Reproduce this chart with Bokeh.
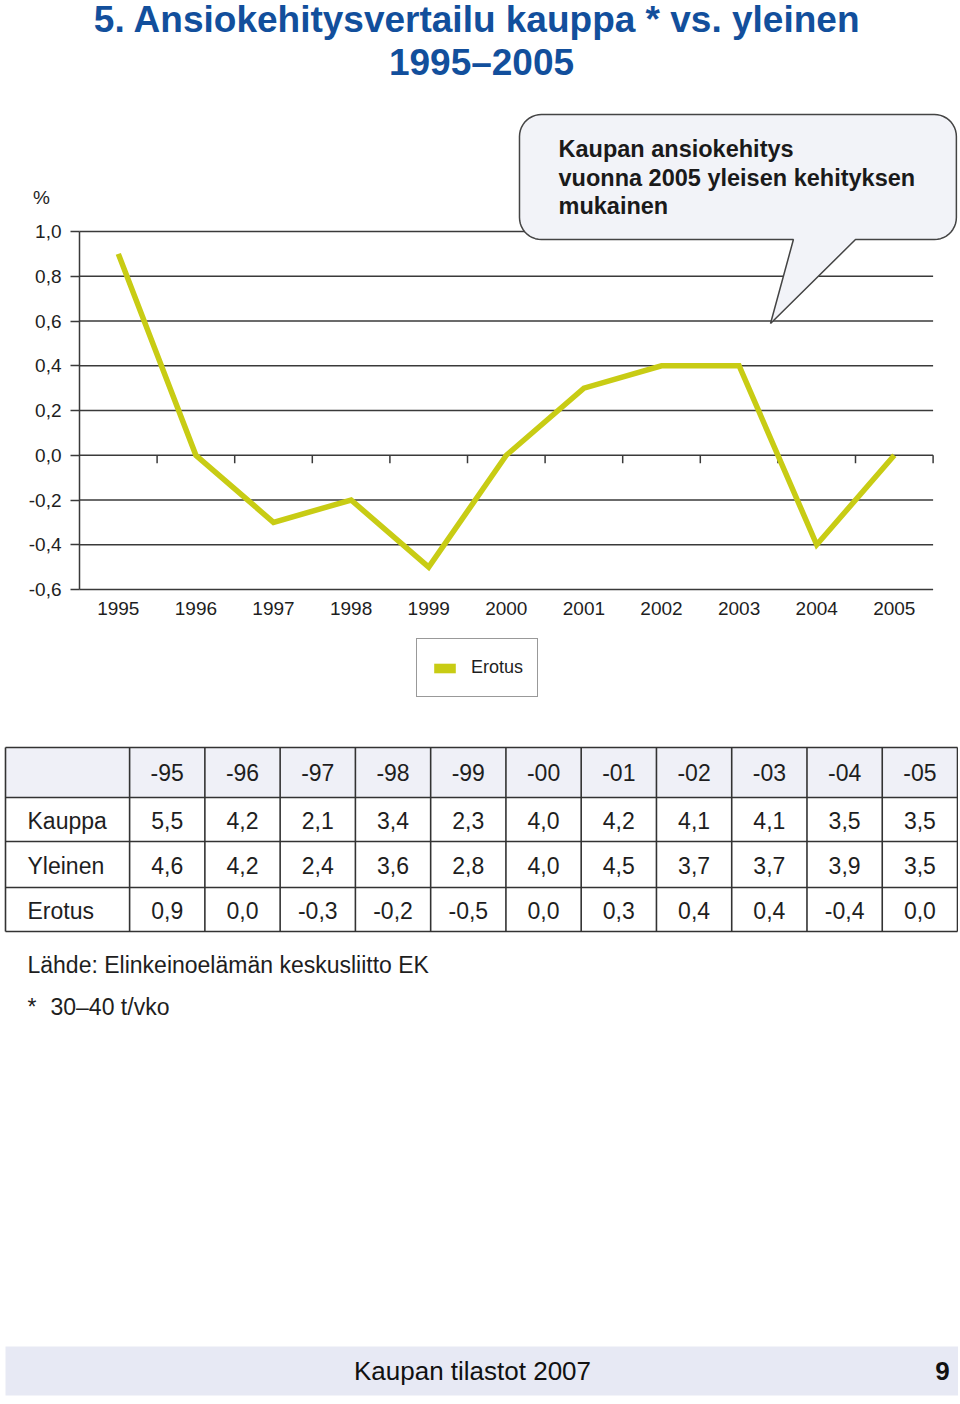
import numpy as np
from bokeh.plotting import figure
from bokeh.models import Range1d, FixedTicker, Legend, LegendItem
from bokeh.layouts import column
from bokeh.embed import file_html
from bokeh.resources import INLINE
from bokeh.core.properties import value

FONT = "Liberation Sans"

# ---------------- data ----------------
years = [1995, 1996, 1997, 1998, 1999, 2000, 2001, 2002, 2003, 2004, 2005]
erotus = [0.9, 0.0, -0.3, -0.2, -0.5, 0.0, 0.3, 0.4, 0.4, -0.4, 0.0]
y_ticks = [-0.6, -0.4, -0.2, 0.0, 0.2, 0.4, 0.6, 0.8, 1.0]
y_tick_labels = ["-0,6", "-0,4", "-0,2", "0,0", "0,2", "0,4", "0,6", "0,8", "1,0"]

table_cols = ["-95", "-96", "-97", "-98", "-99", "-00", "-01", "-02", "-03", "-04", "-05"]
kauppa = [5.5, 4.2, 2.1, 3.4, 2.3, 4.0, 4.2, 4.1, 4.1, 3.5, 3.5]
yleinen = [4.6, 4.2, 2.4, 3.6, 2.8, 4.0, 4.5, 3.7, 3.7, 3.9, 3.5]
row_names = ["Kauppa", "Yleinen", "Erotus"]

title_lines = ["5.  Ansiokehitysvertailu kauppa * vs. yleinen", "1995\u20132005"]
callout_lines = ["Kaupan ansiokehitys", "vuonna 2005 yleisen kehityksen", "mukainen"]
source_text = "L\u00e4hde: Elinkeinoel\u00e4m\u00e4n keskusliitto EK"
note_text = "30\u201340 t/vko"
footer_text = "Kaupan tilastot 2007"
page_no = "9"

# ---------------- styles ----------------
W = 958
TITLE_BLUE = "#124f9c"
LINE_COL = "#c8cc14"
GRID_COL = "#3a3a3a"
TXT = "#1e1e1e"


def fmt(v):
    s = f"{v:.1f}".replace(".", ",")
    return "0,0" if s == "-0,0" else s


def base(h, xr, yr, axes=False):
    kw = {} if axes else dict(x_axis_location=None, y_axis_location=None)
    f = figure(width=W, height=h, x_range=xr, y_range=yr, toolbar_location=None,
               output_backend="svg", min_border=0, title=None, **kw)
    f.frame_align = False
    f.outline_line_color = None
    f.grid.visible = False
    return f


# ---------------- title ----------------
f0 = base(100, Range1d(0, W), Range1d(100, 0))
f0.text(x=[482, 481], y=[19, 62], text=title_lines, text_font=value(FONT),
        text_font_style="bold", text_font_size="37px", text_color=TITLE_BLUE,
        text_align="center", text_baseline="middle")

# ---------------- chart ----------------
PX_X = 77.6      # px per year
PX_Y = 223.75    # px per unit
H1 = 630
AX_X = 79        # x pixel of the value axis inside this figure
AX_Y = 489       # y pixel (from top) of the -0.6 line inside this figure
x0 = years[0] - 0.5
y0 = y_ticks[0]
xr = Range1d(x0 - AX_X / PX_X, x0 + (W - AX_X) / PX_X)
yr = Range1d(y0 - (H1 - AX_Y) / PX_Y, y0 + AX_Y / PX_Y)
f1 = base(H1, xr, yr, axes=True)

xa = f1.xaxis[0]
xa.fixed_location = y0
xa.ticker = FixedTicker(ticks=years)
xa.axis_line_color = None
xa.major_tick_line_color = None
xa.minor_tick_line_color = None
xa.major_label_standoff = 6
xa.major_label_text_font = FONT
xa.major_label_text_font_size = "19px"
xa.major_label_text_color = TXT

ya = f1.yaxis[0]
ya.fixed_location = x0
ya.ticker = FixedTicker(ticks=y_ticks)
ya.major_label_overrides = {t: l for t, l in zip(y_ticks, y_tick_labels)}
ya.bounds = (y_ticks[0], y_ticks[-1])
ya.axis_line_color = GRID_COL
ya.axis_line_width = 1.5
ya.major_tick_line_color = GRID_COL
ya.major_tick_line_width = 1.5
ya.major_tick_out = 9
ya.major_tick_in = 0
ya.minor_tick_line_color = None
ya.major_label_standoff = 9
ya.major_label_text_font = FONT
ya.major_label_text_font_size = "19px"
ya.major_label_text_color = TXT

# horizontal grid lines over the category span
x_lo, x_hi = years[0] - 0.5, years[-1] + 0.5
f1.segment(x0=[x_lo] * len(y_ticks), x1=[x_hi] * len(y_ticks), y0=y_ticks, y1=y_ticks,
           line_color=GRID_COL, line_width=1.5)
# category boundary ticks on the zero line
bnds = [y + 0.5 for y in years]
f1.segment(x0=bnds, x1=bnds, y0=[0.0] * len(bnds), y1=[-8 / PX_Y] * len(bnds),
           line_color=GRID_COL, line_width=1.5)

f1.line(years, erotus, line_color=LINE_COL, line_width=5.5, line_join="miter")

# unit label above the value axis
f1.text(x=[x0 - 38 / PX_X], y=[y0 + 392 / PX_Y], text=["%"], text_font=value(FONT),
        text_font_size="19px", text_color=TXT, text_align="center", text_baseline="middle")

# callout bubble (rounded rectangle with tail)
L, R, T, B = 2000.17, 2005.80, 1.523, 0.964
rx, ry = 22 / PX_X, 22 / PX_Y
tail_l, tail_r, tip = (2003.70, B), (2004.50, B), (2003.405, 0.589)


def arc(cx, cy, a0, a1, n=12):
    a = np.radians(np.linspace(a0, a1, n))
    return list(cx + rx * np.cos(a)), list(cy + ry * np.sin(a))


xs, ys = [], []
for cx, cy, a0, a1 in [(L + rx, T - ry, 90, 180), (L + rx, B + ry, 180, 270)]:
    ax, ay = arc(cx, cy, a0, a1)
    xs += ax
    ys += ay
xs += [tail_l[0], tip[0], tail_r[0]]
ys += [tail_l[1], tip[1], tail_r[1]]
for cx, cy, a0, a1 in [(R - rx, B + ry, 270, 360), (R - rx, T - ry, 0, 90)]:
    ax, ay = arc(cx, cy, a0, a1)
    xs += ax
    ys += ay
f1.patch(xs, ys, fill_color="#f2f3f8", line_color="#444444", line_width=1.5)

cl_x = 2000.673
cl_y = [1.3665, 1.2413, 1.1162]
f1.text(x=[cl_x] * 3, y=cl_y, text=callout_lines, text_font=value(FONT),
        text_font_style="bold", text_font_size="23.5px", text_color="#1a1a1a",
        text_align="left", text_baseline="middle")

# legend (swatch renderer is a zero-size quad, only its legend glyph shows)
swatch = f1.quad(left=[x0], right=[x0], top=[y0], bottom=[y0], fill_color=LINE_COL,
                 line_color=None)
leg = Legend(items=[LegendItem(label="Erotus", renderers=[swatch])], location=(416, 33),
             border_line_color="#333333", border_line_width=1.5, background_fill_color="white",
             background_fill_alpha=1.0, padding=14, margin=0, spacing=0,
             glyph_width=27, glyph_height=12, label_standoff=13, label_height=29,
             label_text_font=FONT, label_text_font_size="18px", label_text_color=TXT)
f1.add_layout(leg, "center")

# ---------------- table ----------------
LW = 1.649
CPX = 75.26
H2 = 210
f2 = base(H2, Range1d(-LW - 5 / CPX, 11 + 1 / CPX), Range1d(H2 - 17, -17))
row_edges = [0, 50, 94, 140, 184]
n = len(table_cols)
f2.quad(left=[-LW], right=[n], top=[row_edges[0]], bottom=[row_edges[1]],
        fill_color="#eff0f7", line_color=None)
f2.segment(x0=[-LW] * len(row_edges), x1=[n] * len(row_edges), y0=row_edges, y1=row_edges,
           line_color="#333333", line_width=1.6)
vx = [-LW] + list(range(n + 1))
f2.segment(x0=vx, x1=vx, y0=[row_edges[0]] * len(vx), y1=[row_edges[-1]] * len(vx),
           line_color="#333333", line_width=1.6)

centers = [i + 0.5 for i in range(n)]
mids = [(row_edges[i] + row_edges[i + 1]) / 2 for i in range(len(row_edges) - 1)]
tx, ty, tt = [], [], []
tx += centers
ty += [mids[0]] * n
tt += table_cols
for r, vals in enumerate([kauppa, yleinen, erotus]):
    tx += centers
    ty += [mids[r + 1] + 1] * n
    tt += [fmt(v) for v in vals]
f2.text(x=tx, y=ty, text=tt, text_font=value(FONT), text_font_size="23px",
        text_color=TXT, text_align="center", text_baseline="middle")
f2.text(x=[-LW + 22 / CPX] * 3, y=[m + 1 for m in mids[1:]], text=row_names,
        text_font=value(FONT), text_font_size="23px", text_color=TXT,
        text_align="left", text_baseline="middle")

# ---------------- notes & footer ----------------
H3 = 460
f3 = base(H3, Range1d(0, W), Range1d(940 + H3, 940))
f3.text(x=[27, 27, 50], y=[964, 1006, 1006], text=[source_text, "*", note_text],
        text_font=value(FONT), text_font_size="23px", text_color=TXT,
        text_align="left", text_baseline="middle")
f3.quad(left=[5], right=[958], top=[1346], bottom=[1395], fill_color="#e7e9f4", line_color=None)
f3.text(x=[472], y=[1370], text=[footer_text], text_font=value(FONT), text_font_size="26px",
        text_color="#111111", text_align="center", text_baseline="middle")
f3.text(x=[942], y=[1370], text=[page_no], text_font=value(FONT), text_font_size="26px",
        text_font_style="bold", text_color="#111111", text_align="center", text_baseline="middle")

layout = column(f0, f1, f2, f3, spacing=0)
open("out.html", "w").write(file_html(layout, INLINE))
